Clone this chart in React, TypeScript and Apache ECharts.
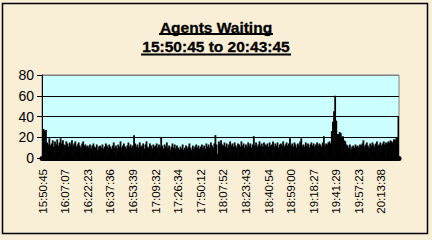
import React, { useEffect, useRef } from "react";
import * as echarts from "echarts";

const titleLine1 = "Agents Waiting";
const titleLine2 = "15:50:45 to 20:43:45";

const tickLabels = [
  "15:50:45", "16:07:07", "16:22:23", "16:37:36", "16:53:39", "17:09:32",
  "17:26:34", "17:50:12", "18:07:52", "18:23:43", "18:40:54", "18:59:00",
  "19:18:27", "19:41:29", "19:57:23", "20:13:38",
];

const LABEL_STEP = 20;

const yTicks = { min: 0, max: 80, interval: 20 };

const agentsWaiting = [
  27, 28, 26, 27, 15, 13, 19, 12, 14, 17, 11, 16, 13, 18, 12, 15, 19, 14, 17, 13,
  12, 16, 14, 11, 15, 13, 17, 12, 14, 16, 11, 13, 15, 12, 10, 14, 16, 12, 13, 11,
  12, 10, 13, 9, 12, 14, 11, 10, 13, 8, 11, 12, 10, 13, 9, 11, 14, 12, 10, 13,
  11, 9, 12, 15, 10, 12, 9, 13, 11, 16, 10, 12, 14, 11, 9, 12, 15, 11, 13, 10,
  12, 22, 14, 11, 13, 10, 15, 12, 11, 14, 9, 13, 16, 11, 10, 14, 12, 9, 13, 11,
  12, 14, 10, 13, 11, 20, 12, 9, 13, 11, 15, 10, 12, 8, 11, 14, 10, 13, 9, 12,
  10, 8, 11, 9, 13, 8, 10, 12, 9, 11, 14, 10, 8, 12, 9, 11, 13, 10, 12, 9,
  11, 13, 10, 12, 9, 14, 11, 13, 10, 15, 12, 10, 14, 22, 13, 4, 16, 14, 17, 13,
  12, 15, 11, 14, 10, 13, 16, 12, 14, 11, 15, 12, 10, 14, 13, 11, 16, 12, 14, 10,
  13, 11, 15, 12, 14, 10, 13, 21, 12, 15, 11, 13, 16, 12, 14, 11, 15, 13, 12, 14,
  11, 15, 12, 13, 16, 11, 14, 12, 15, 10, 13, 14, 12, 16, 11, 13, 15, 12, 14, 19,
  12, 14, 11, 15, 13, 10, 14, 12, 16, 19, 12, 13, 11, 15, 12, 14, 10, 13, 15, 12,
  14, 11, 13, 15, 12, 14, 13, 11, 15, 21, 12, 14, 13, 15, 16, 14, 26, 35, 45, 60,
  36, 23, 23, 25, 24, 20, 21, 17, 16, 13, 12, 10, 13, 9, 11, 12, 10, 13, 11, 12,
  10, 13, 12, 14, 17, 11, 13, 15, 12, 10, 14, 12, 15, 13, 11, 14, 16, 12, 13, 15,
  12, 14, 16, 13, 15, 14, 16, 15, 17, 16, 15, 18, 17, 19, 20, 40,
];

const FONT = 'Arial, "Liberation Sans", sans-serif';

export default function App() {
  const ref = useRef<HTMLDivElement>(null);

  useEffect(() => {
    document.body.style.margin = "0";
    if (!ref.current) return;
    const chart = echarts.init(ref.current, null, { renderer: "svg" });
    const categories = agentsWaiting.map((_, i) => String(i));

    chart.setOption({
      animation: false,
      backgroundColor: "#F9EED6",
      textStyle: { fontFamily: FONT },
      graphic: [
        {
          type: "rect",
          silent: true,
          shape: { x: 2.5, y: 3.5, width: 425, height: 230 },
          style: { fill: "none", stroke: "#000", lineWidth: 1.5 },
        },
        {
          type: "text",
          x: 216,
          y: 27,
          style: {
            text: titleLine1,
            fontSize: 15.5,
            fontWeight: "bold",
            fontFamily: FONT,
            fill: "#000",
            stroke: "#000",
            lineWidth: 0.3,
            align: "center",
            verticalAlign: "middle",
          },
        },
        {
          type: "line",
          silent: true,
          shape: { x1: 159, y1: 34, x2: 273, y2: 34 },
          style: { stroke: "#000", lineWidth: 1.8 },
        },
        {
          type: "text",
          x: 216,
          y: 46,
          style: {
            text: titleLine2,
            fontSize: 15.5,
            fontWeight: "bold",
            fontFamily: FONT,
            fill: "#000",
            stroke: "#000",
            lineWidth: 0.3,
            align: "center",
            verticalAlign: "middle",
          },
        },
        {
          type: "line",
          silent: true,
          shape: { x1: 141, y1: 54.5, x2: 291, y2: 54.5 },
          style: { stroke: "#000", lineWidth: 1.8 },
        },
      ],
      grid: {
        left: 42,
        right: 33,
        top: 75,
        height: 83,
        show: true,
        backgroundColor: "#CCFFFF",
        borderColor: "#808080",
        borderWidth: 1,
      },
      xAxis: {
        type: "category",
        data: categories,
        boundaryGap: true,
        offset: 1,
        axisLine: { show: true, lineStyle: { color: "#000", width: 5 } },
        axisTick: { show: false },
        axisLabel: {
          interval: (index: number) => index % LABEL_STEP === 0,
          formatter: (_v: string, index: number) =>
            index % LABEL_STEP === 0 ? tickLabels[index / LABEL_STEP] ?? "" : "",
          rotate: 90,
          margin: 10,
          fontSize: 11.5,
          color: "#000",
          fontFamily: FONT,
        },
        splitLine: { show: false },
      },
      yAxis: {
        type: "value",
        min: yTicks.min,
        max: yTicks.max,
        interval: yTicks.interval,
        axisLine: { show: true, lineStyle: { color: "#000", width: 1 } },
        axisTick: { show: true, length: 5, lineStyle: { color: "#000" } },
        axisLabel: {
          margin: 8,
          fontSize: 14,
          color: "#000",
          fontFamily: FONT,
        },
        splitLine: {
          show: true,
          lineStyle: {
            color: ["#000", "#000", "#000", "#000", "#808080"],
            width: 1,
          },
        },
      },
      series: [
        {
          type: "bar",
          data: agentsWaiting,
          barWidth: 1.8,
          itemStyle: { color: "#000" },
          large: false,
        },
      ],
    });

    return () => chart.dispose();
  }, []);

  return <div ref={ref} style={{ width: 432, height: 240 }} />;
}
